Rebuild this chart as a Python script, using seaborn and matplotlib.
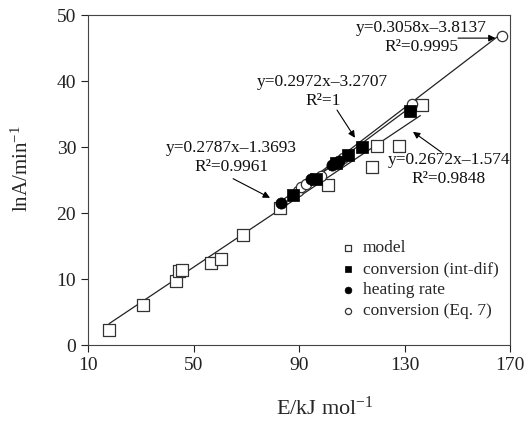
import numpy as np
import pandas as pd
import matplotlib
matplotlib.use("Agg")
import matplotlib.pyplot as plt
import seaborn as sns

## Dados
model_E = [18.0, 30.9, 43.4, 44.5, 45.6, 56.6, 60.4, 68.8, 82.8, 100.8, 117.7, 119.6, 127.9, 136.6]
model_lnA = [2.3, 6.1, 9.7, 11.2, 11.3, 12.5, 13.1, 16.6, 20.7, 24.3, 27.0, 30.2, 30.2, 36.3]

intdif_E = [87.7, 96.5, 104.0, 108.7, 113.9, 131.9]
intdif_lnA = [22.8, 25.2, 27.6, 28.8, 30.0, 35.5]

heating_E = [83.2, 94.5, 102.5, 105.0]
heating_lnA = [21.5, 25.1, 27.3, 27.9]

eq7_E = [89.5, 90.8, 92.5, 98.5, 106.8, 133.0, 167.0]
eq7_lnA = [23.4, 23.9, 24.4, 25.6, 28.3, 36.5, 46.8]

# retas de ajuste (inclinação, intercepto, faixa de E)
fit_slope = [0.2672, 0.2972, 0.2787, 0.3058]
fit_icpt = [-1.574, -3.2707, -1.3693, -3.8137]
fit_xmin = [18.0, 87.0, 82.0, 89.0]
fit_xmax = [136.0, 132.5, 108.0, 167.0]

labels_eq = ['y=0.2672x\u20131.574\nR\u00b2=0.9848',
             'y=0.2972x\u20133.2707\nR\u00b2=1',
             'y=0.2787x\u20131.3693\nR\u00b2=0.9961',
             'y=0.3058x\u20133.8137\nR\u00b2=0.9995']
text_xy = [(146.8, 26.6), (99.0, 38.4), (64.5, 28.4), (136.5, 46.6)]
arrow_from = [(144.0, 29.2), (104.4, 35.6), (65.0, 25.2), (150.3, 46.5)]
arrow_to = [(133.2, 32.3), (111.2, 31.4), (79.0, 22.3), (164.5, 46.5)]

sns.set_theme(style="ticks")
plt.rcParams['font.family'] = ['Liberation Serif', 'DejaVu Serif']
plt.rcParams['mathtext.fontset'] = 'custom'
plt.rcParams['mathtext.rm'] = 'Liberation Serif'
plt.rcParams['mathtext.it'] = 'Liberation Serif:italic'

fig = plt.figure(figsize=(5.28, 4.24), dpi=100)
ax = fig.add_axes([0.1667, 0.1863, 0.7993, 0.7783])

# retas
for s, b, x0, x1 in zip(fit_slope, fit_icpt, fit_xmin, fit_xmax):
    xs = np.array([x0, x1])
    sns.lineplot(x=xs, y=s * xs + b, ax=ax, color='#222222', linewidth=0.9)

sns.scatterplot(x=model_E, y=model_lnA, ax=ax, marker='s', s=70,
                facecolor='white', edgecolor='#333333', linewidth=0.9,
                label='model', zorder=3)
sns.scatterplot(x=eq7_E, y=eq7_lnA, ax=ax, marker='o', s=55,
                facecolor='white', edgecolor='#333333', linewidth=0.9,
                label='conversion (Eq. 7)', zorder=4)
sns.scatterplot(x=intdif_E, y=intdif_lnA, ax=ax, marker='s', s=65,
                color='black', edgecolor='black', linewidth=0.5,
                label='conversion (int-dif)', zorder=5)
sns.scatterplot(x=heating_E, y=heating_lnA, ax=ax, marker='o', s=65,
                color='black', edgecolor='black', linewidth=0.5,
                label='heating rate', zorder=5)

for lab, txy, a0, a1 in zip(labels_eq, text_xy, arrow_from, arrow_to):
    ax.text(txy[0], txy[1], lab, ha='center', va='center', fontsize=12.5,
            linespacing=1.2, color='#111111')
    ax.annotate('', xy=a1, xytext=a0,
                arrowprops=dict(arrowstyle='-|>', color='black', lw=0.8,
                                mutation_scale=10, shrinkA=0, shrinkB=0))

ax.set_xlim(10, 170)
ax.set_ylim(0, 50)
ax.set_xticks([10, 50, 90, 130, 170])
ax.set_yticks([0, 10, 20, 30, 40, 50])
ax.tick_params(direction='out', length=5, width=0.8, labelsize=14, colors='#222222')
for sp in ax.spines.values():
    sp.set_visible(True)
    sp.set_color('#444444')
    sp.set_linewidth(0.8)

ax.set_xlabel('E/kJ mol$^{-1}$', fontsize=16)
ax.set_ylabel('lnA/min$^{-1}$', fontsize=15)
ax.xaxis.set_label_coords(0.56, -0.155)
ax.yaxis.set_label_coords(-0.13, 0.535)

handles, labs = ax.get_legend_handles_labels()
order = [labs.index(n) for n in ['model', 'conversion (int-dif)', 'heating rate', 'conversion (Eq. 7)']]
ax.legend([handles[i] for i in order], [labs[i] for i in order],
          loc='lower right', bbox_to_anchor=(1.01, 0.03), frameon=False,
          fontsize=12.5, markerscale=0.6, handletextpad=0.35, labelspacing=0.28,
          handlelength=1.0)

plt.savefig('out.png', dpi=100)
